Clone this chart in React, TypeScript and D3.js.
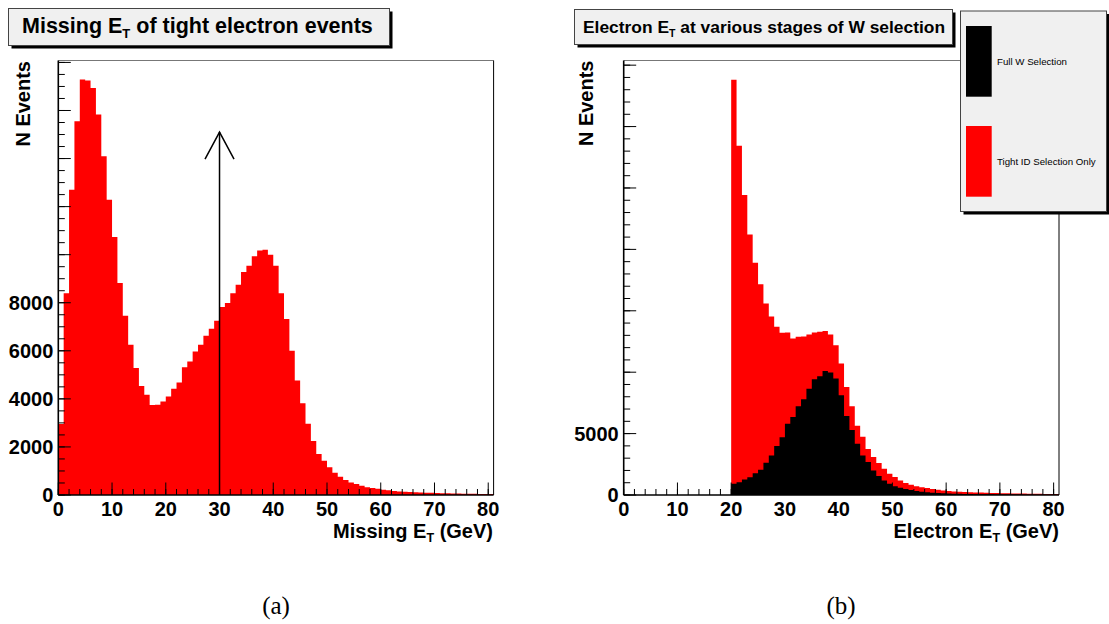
import React from 'react';
import * as d3 from 'd3';

// Missing E_T histogram, 1 GeV bins starting at 0 GeV
const missingEtBins = [
  2950, 8400, 12700, 15550, 17290, 17250, 16940, 15830, 14100, 12290,
  10740, 8820, 7460, 6250, 5280, 4540, 4170, 3750, 3760, 3890,
  4100, 4420, 4680, 5320, 5560, 5970, 6250, 6625, 6920, 7250,
  7820, 7990, 8390, 8750, 9280, 9540, 9930, 10170, 10200, 10000,
  9540, 8400, 7320, 6000, 4760, 3820, 2960, 2250, 1710, 1420,
  1150, 930, 760, 625, 515, 460, 390, 320, 290, 265,
  220, 195, 165, 150, 140, 125, 110, 105, 95, 90,
  85, 75, 70, 65, 60, 55, 50, 48, 45, 42, 40,
];
const missingEtStart = 0;

// Electron E_T histograms, 1 GeV bins starting at 20 GeV
const electronTightBins = [
  33810, 28430, 24430, 21220, 18910, 17170, 15590, 14530, 13690, 13210,
  13230, 12740, 12880, 12900, 13070, 13230, 13290, 13360, 13070, 12190,
  10700, 8790, 7220, 5630, 4750, 3740, 3090, 2600, 2130, 1730,
  1460, 1190, 970, 830, 720, 640, 560, 480, 420, 370,
  320, 290, 270, 250, 230, 210, 195, 180, 170, 160,
  150, 140, 130, 120, 115, 110, 100, 95, 90, 85, 80,
];
const electronFullWBins = [
  910, 1040, 1260, 1450, 1780, 2050, 2630, 3220, 3980, 4710,
  5800, 6350, 7220, 7790, 8660, 9420, 9670, 10100, 9970, 9480,
  8120, 6430, 5300, 4180, 3220, 2680, 2000, 1540, 1180, 910,
  720, 590, 480, 400, 320, 260, 220, 190, 160, 140,
  120, 105, 95, 85, 78, 70, 64, 58, 52, 48,
  44, 40, 36, 33, 30, 27, 25, 23, 21, 19, 18,
];
const electronStart = 20;

const xTickLabels = [0, 10, 20, 30, 40, 50, 60, 70, 80];
const leftYTickLabels = [0, 2000, 4000, 6000, 8000];
const rightYTickLabels = [0, 5000];
const legendLabels = ['Full W Selection', 'Tight ID Selection Only'];
const cutValue = 30;
const cutArrowTop = 15100;

const FONT = '"Liberation Sans", Arial, Helvetica, sans-serif';
const RED = '#ff0000';

function histArea(values: number[], start: number, x: any, y: any) {
  const pts: [number, number][] = values.map((v, i) => [start + i, v]);
  pts.push([start + values.length, values[values.length - 1]]);
  return d3
    .area<[number, number]>()
    .x((d) => x(d[0]))
    .y0(y(0))
    .y1((d) => y(d[1]))
    .curve(d3.curveStepAfter)(pts) as string;
}

function Axes({ x, y, yMajor, yMinor, yLabels }: any) {
  const [x0, x1] = x.range();
  const [yb, yt] = y.range();
  const xMinor = d3.range(0, 81, 2);
  const xMajor = d3.range(0, 81, 10);
  return (
    <g>
      <line x1={x0} x2={x1} y1={yt} y2={yt} stroke="#777" strokeWidth={1} />
      <line x1={x1} x2={x1} y1={yt} y2={yb} stroke="#000" strokeWidth={1} />
      <line x1={x0} x2={x1} y1={yb} y2={yb} stroke="#000" strokeWidth={1.6} />
      <line x1={x0} x2={x0} y1={yt} y2={yb} stroke="#000" strokeWidth={1.6} />
      {xMinor.map((v: number) => (
        <line key={'xm' + v} x1={x(v)} x2={x(v)} y1={yb} y2={yb - 6} stroke="#000" strokeWidth={1} />
      ))}
      {xMajor.map((v: number) => (
        <line key={'xM' + v} x1={x(v)} x2={x(v)} y1={yb} y2={yb - 12.5} stroke="#000" strokeWidth={1} />
      ))}
      {yMinor.map((v: number) => (
        <line key={'ym' + v} x1={x0} x2={x0 + 6.5} y1={y(v)} y2={y(v)} stroke="#000" strokeWidth={1} />
      ))}
      {yMajor.map((v: number) => (
        <line key={'yM' + v} x1={x0} x2={x0 + 12.5} y1={y(v)} y2={y(v)} stroke="#000" strokeWidth={1} />
      ))}
      {xTickLabels.map((v) => (
        <text key={'xl' + v} x={x(v)} y={yb + 20.5} textAnchor="middle" fontFamily={FONT} fontWeight="bold" fontSize={20}>
          {v}
        </text>
      ))}
      {yLabels.map((v: number) => (
        <text key={'yl' + v} x={x0 - 5} y={y(v) + 7.2} textAnchor="end" fontFamily={FONT} fontWeight="bold" fontSize={20}>
          {v}
        </text>
      ))}
    </g>
  );
}

function TitleBox({ x, y, w, h, children }: any) {
  return (
    <g>
      <rect x={x + 3} y={y + 3} width={w} height={h} fill="#000" />
      <rect x={x} y={y} width={w} height={h} fill="#f0f0f0" stroke="#444" strokeWidth={1} />
      {children}
    </g>
  );
}

export default function App() {
  const yb = 495;
  const yt = 60.5;
  const xL = d3.scaleLinear().domain([0, 81]).range([58.3, 493.6]);
  const yL = d3.scaleLinear().domain([0, 18080]).range([yb, yt]);
  const xR = d3.scaleLinear().domain([0, 81]).range([623.7, 1059]);
  const yR = d3.scaleLinear().domain([0, 35380]).range([yb, yt]);

  const ax = xL(cutValue);
  const ay = yL(cutArrowTop);

  return (
    <svg width={1109} height={624} style={{ position: 'absolute', left: 0, top: 0, background: '#fff' }}>
      <rect x={0} y={0} width={1109} height={624} fill="#fff" />

      {/* Left panel */}
      <path d={histArea(missingEtBins, missingEtStart, xL, yL)} fill={RED} />
      <Axes x={xL} y={yL} yMajor={d3.range(0, 18001, 2000)} yMinor={d3.range(0, 18001, 500)} yLabels={leftYTickLabels} />
      <line x1={ax} x2={ax} y1={yb} y2={ay} stroke="#000" strokeWidth={1.5} />
      <polyline points={`${ax - 14.5},${ay + 27} ${ax},${ay} ${ax + 14.5},${ay + 27}`} fill="none" stroke="#000" strokeWidth={1.5} />
      <text x={493} y={537.5} textAnchor="end" fontFamily={FONT} fontWeight="bold" fontSize={20}>
        Missing E<tspan fontSize={12.5} dy={4.5}>T</tspan>
        <tspan dy={-4.5}> (GeV)</tspan>
      </text>
      <text transform="translate(30,61) rotate(-90)" textAnchor="end" fontFamily={FONT} fontWeight="bold" fontSize={20}>
        N Events
      </text>
      <TitleBox x={8.5} y={8.5} w={381} h={37}>
        <text x={22} y={33.3} fontFamily={FONT} fontWeight="bold" fontSize={21.5}>
          Missing E<tspan fontSize={13} dy={5}>T</tspan>
          <tspan dy={-5}> of tight electron events</tspan>
        </text>
      </TitleBox>

      {/* Right panel */}
      <path d={histArea(electronTightBins, electronStart, xR, yR)} fill={RED} />
      <path d={histArea(electronFullWBins, electronStart, xR, yR)} fill="#000" />
      <Axes x={xR} y={yR} yMajor={d3.range(0, 35001, 5000)} yMinor={d3.range(0, 35001, 1000)} yLabels={rightYTickLabels} />
      <text x={1059} y={537.5} textAnchor="end" fontFamily={FONT} fontWeight="bold" fontSize={20}>
        Electron E<tspan fontSize={12.5} dy={4.5}>T</tspan>
        <tspan dy={-4.5}> (GeV)</tspan>
      </text>
      <text transform="translate(593.3,60.5) rotate(-90)" textAnchor="end" fontFamily={FONT} fontWeight="bold" fontSize={20}>
        N Events
      </text>
      <TitleBox x={574.5} y={9.5} w={378} h={35}>
        <text x={583} y={33} fontFamily={FONT} fontWeight="bold" fontSize={17.4}>
          Electron E<tspan fontSize={10.5} dy={4}>T</tspan>
          <tspan dy={-4}> at various stages of W selection</tspan>
        </text>
      </TitleBox>

      {/* Legend */}
      <TitleBox x={960.5} y={11} w={146} h={200.5}>
        <rect x={966} y={26} width={25.7} height={70.7} fill="#000" />
        <rect x={966} y={126} width={25.7} height={70.7} fill={RED} />
        <text x={997} y={64.5} fontFamily={FONT} fontSize={9.7} fill="#000">{legendLabels[0]}</text>
        <text x={997} y={164.5} fontFamily={FONT} fontSize={9.7} fill="#000">{legendLabels[1]}</text>
      </TitleBox>

      {/* Captions */}
      <text x={276} y={614} textAnchor="middle" fontFamily='"Liberation Serif", "Times New Roman", serif' fontSize={25}>(a)</text>
      <text x={841} y={614} textAnchor="middle" fontFamily='"Liberation Serif", "Times New Roman", serif' fontSize={25}>(b)</text>
    </svg>
  );
}
